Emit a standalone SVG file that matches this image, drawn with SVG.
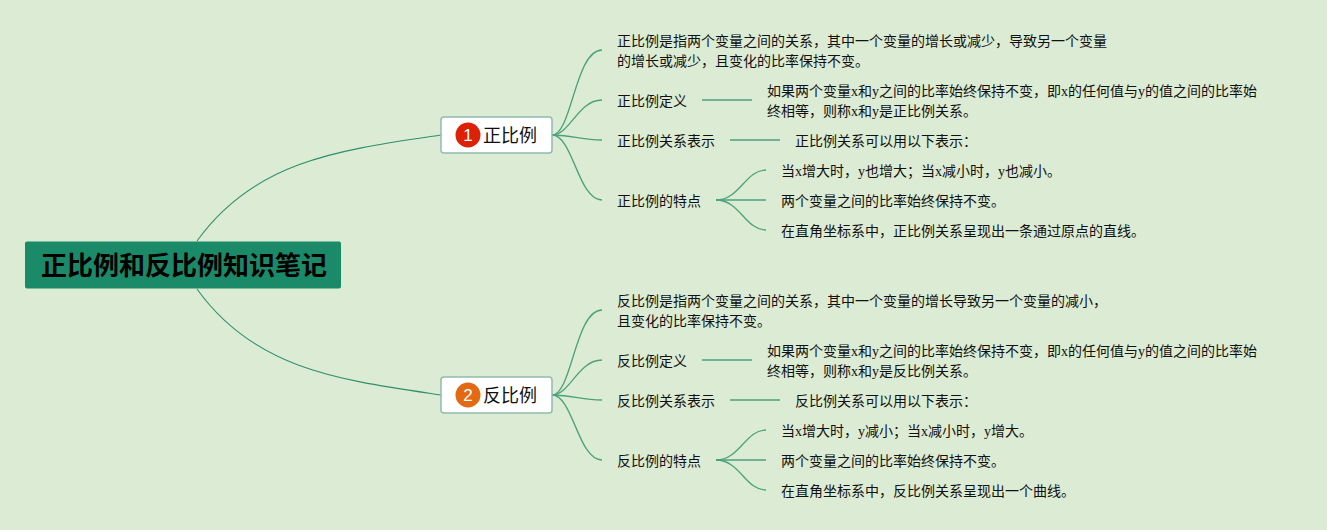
<svg xmlns="http://www.w3.org/2000/svg" width="1327" height="530" viewBox="0 0 1327 530">
<style>
text{font-family:"Liberation Serif","Noto Sans CJK SC",sans-serif;fill:#111;font-size:14px}
.t{font-size:18px;font-family:"Noto Sans CJK SC",sans-serif}
.r{font-size:26px;font-weight:700;fill:#000;font-family:"Noto Sans CJK SC",sans-serif}
.n{font-size:17px;fill:#fff;text-anchor:middle;font-family:"Liberation Sans",sans-serif}
.c path{fill:none;stroke:#2f8f6c;stroke-width:1.1}
.c .b{stroke:#4aa27c;stroke-width:1.3}
.box{fill:#fff;stroke:#8fbcae;stroke-width:1.5}
</style>
<rect width="1327" height="530" fill="#dcebd3"/>
<g class="c" id="connectors">
<path d="M197 241C255 160 340 150 441 135"/>
<path d="M197 289C255 370 340 380 441 395"/>
<g id="c1">
<path class="b" d="M552 135C572 135 575 50 602 50"/>
<path class="b" d="M552 135C570 135 578 100 602 100"/>
<path class="b" d="M552 135C575 135 580 140 602 140"/>
<path class="b" d="M552 135C573 135 578 200 602 200"/>
<path class="b" d="M702 100H752"/>
<path class="b" d="M730 140H780"/>
<path class="b" d="M716 200C740 200 745 170 766 170"/>
<path class="b" d="M716 200H766"/>
<path class="b" d="M716 200C740 200 745 230 766 230"/>
</g>
<g id="c2">
<path class="b" d="M552 395C572 395 575 310 602 310"/>
<path class="b" d="M552 395C570 395 578 360 602 360"/>
<path class="b" d="M552 395C575 395 580 400 602 400"/>
<path class="b" d="M552 395C573 395 578 460 602 460"/>
<path class="b" d="M702 360H752"/>
<path class="b" d="M730 400H780"/>
<path class="b" d="M716 460C740 460 745 430 766 430"/>
<path class="b" d="M716 460H766"/>
<path class="b" d="M716 460C740 460 745 490 766 490"/>
</g>
</g>
<g id="root"><rect x="25" y="241.500" width="316" height="47" rx="2" fill="#1b8a68"/><text class="r" x="41" y="275">正比例和反比例知识笔记</text></g>
<g id="n1"><rect class="box" x="441" y="117" width="111" height="36" rx="3"/><circle cx="468" cy="135" r="12.500" fill="#dc2106"/><text class="n" x="468" y="141">1</text><text class="t" x="483" y="142">正比例</text></g>
<g id="n2"><rect class="box" x="441" y="377" width="111" height="36" rx="3"/><circle cx="468" cy="395" r="12.500" fill="#e36a13"/><text class="n" x="468" y="401">2</text><text class="t" x="483" y="402">反比例</text></g>
<g id="a1"><text x="617" y="46">正比例是指两个变量之间的关系，其中一个变量的增长或减少，导致另一个变量</text><text x="617" y="66">的增长或减少，且变化的比率保持不变。</text></g>
<g id="a2"><text x="617" y="106">正比例定义</text></g>
<g id="a2d"><text x="767" y="96">如果两个变量x和y之间的比率始终保持不变，即x的任何值与y的值之间的比率始</text><text x="767" y="116">终相等，则称x和y是正比例关系。</text></g>
<g id="a3"><text x="617" y="146">正比例关系表示</text></g>
<g id="a3d"><text x="795" y="146">正比例关系可以用以下表示：</text></g>
<g id="a4"><text x="617" y="206">正比例的特点</text></g>
<g id="a41"><text x="781" y="176">当x增大时，y也增大；当x减小时，y也减小。</text></g>
<g id="a42"><text x="781" y="206">两个变量之间的比率始终保持不变。</text></g>
<g id="a43"><text x="781" y="236">在直角坐标系中，正比例关系呈现出一条通过原点的直线。</text></g>
<g id="b1"><text x="617" y="306">反比例是指两个变量之间的关系，其中一个变量的增长导致另一个变量的减小，</text><text x="617" y="326">且变化的比率保持不变。</text></g>
<g id="b2"><text x="617" y="366">反比例定义</text></g>
<g id="b2d"><text x="767" y="356">如果两个变量x和y之间的比率始终保持不变，即x的任何值与y的值之间的比率始</text><text x="767" y="376">终相等，则称x和y是反比例关系。</text></g>
<g id="b3"><text x="617" y="406">反比例关系表示</text></g>
<g id="b3d"><text x="795" y="406">反比例关系可以用以下表示：</text></g>
<g id="b4"><text x="617" y="466">反比例的特点</text></g>
<g id="b41"><text x="781" y="436">当x增大时，y减小；当x减小时，y增大。</text></g>
<g id="b42"><text x="781" y="466">两个变量之间的比率始终保持不变。</text></g>
<g id="b43"><text x="781" y="496">在直角坐标系中，反比例关系呈现出一个曲线。</text></g>
</svg>
